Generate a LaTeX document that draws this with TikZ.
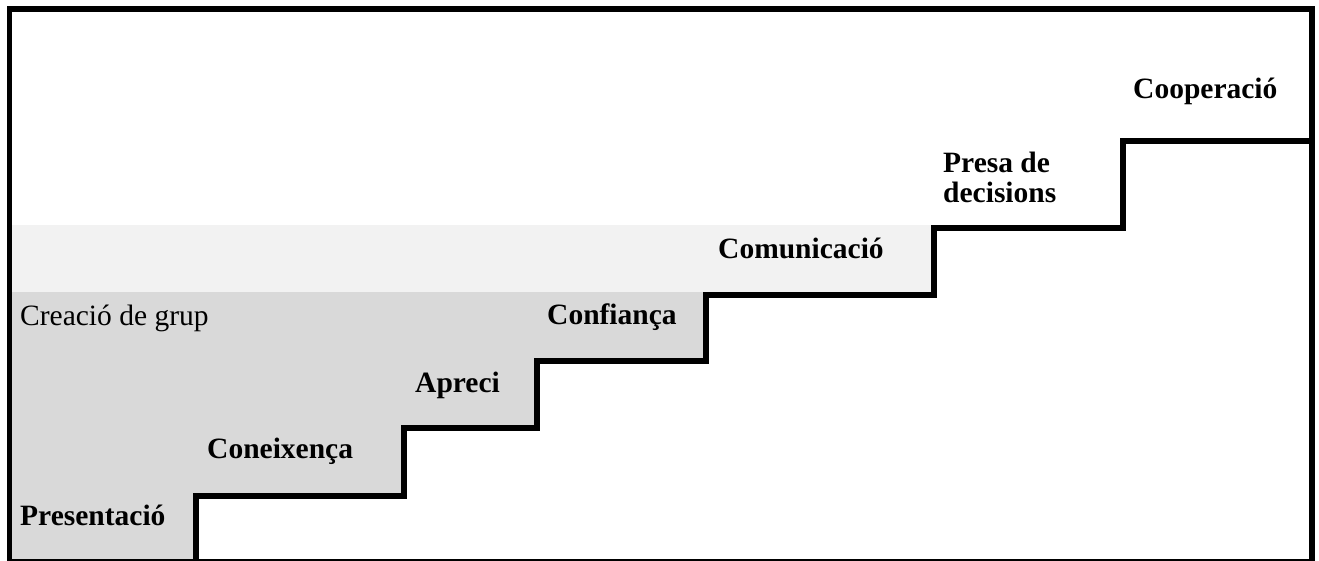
\documentclass[tikz,border=0pt]{standalone}
\usepackage{fontspec}
\setmainfont{Liberation Serif}
\definecolor{darkband}{HTML}{D9D9D9}
\definecolor{lightband}{HTML}{F2F2F2}
\begin{document}
\begin{tikzpicture}[x=1pt,y=-1pt,
  lbl/.style={anchor=base west,inner sep=0pt,font=\fontsize{29.5}{30}\selectfont\bfseries},
  lblplain/.style={anchor=base west,inner sep=0pt,font=\fontsize{29.5}{30}\selectfont},
  edge/.style={line width=5.5pt,line join=miter}]
\useasboundingbox (0,0) rectangle (1319,560);
\fill[white] (0,0) rectangle (1319,560);
% bands
\fill[lightband] (10,225) -- (934,225) -- (934,295) -- (706,295) -- (706,292) -- (10,292) -- cycle;
\fill[darkband] (10,292) -- (706,292) -- (706,361) -- (537,361) -- (537,428) -- (404,428) -- (404,496) -- (196,496) -- (196,562) -- (10,562) -- cycle;
% stairs
\draw[edge] (196,562) -- (196,496) -- (404,496) -- (404,428) -- (537,428) -- (537,361) -- (706,361) -- (706,295) -- (934,295) -- (934,228) -- (1123,228) -- (1123,141) -- (1312,141);
% border
\draw[edge] (9.5,9) rectangle (1312,561.6);
% labels
\node[lblplain] (grup) at (20,325) {Creació de grup};
\node[lbl] (pres) at (20,525) {Presentació};
\node[lbl] (cone) at (207,458) {Coneixença};
\node[lbl] (apre) at (415,392) {Apreci};
\node[lbl] (conf) at (547,324) {Confiança};
\node[lbl] (comu) at (718,258) {Comunicació};
\node[lbl] (presa) at (943,172) {Presa de};
\node[lbl] (deci) at (943,202) {decisions};
\node[lbl] (coop) at (1133,98) {Cooperació};
\end{tikzpicture}
\end{document}
